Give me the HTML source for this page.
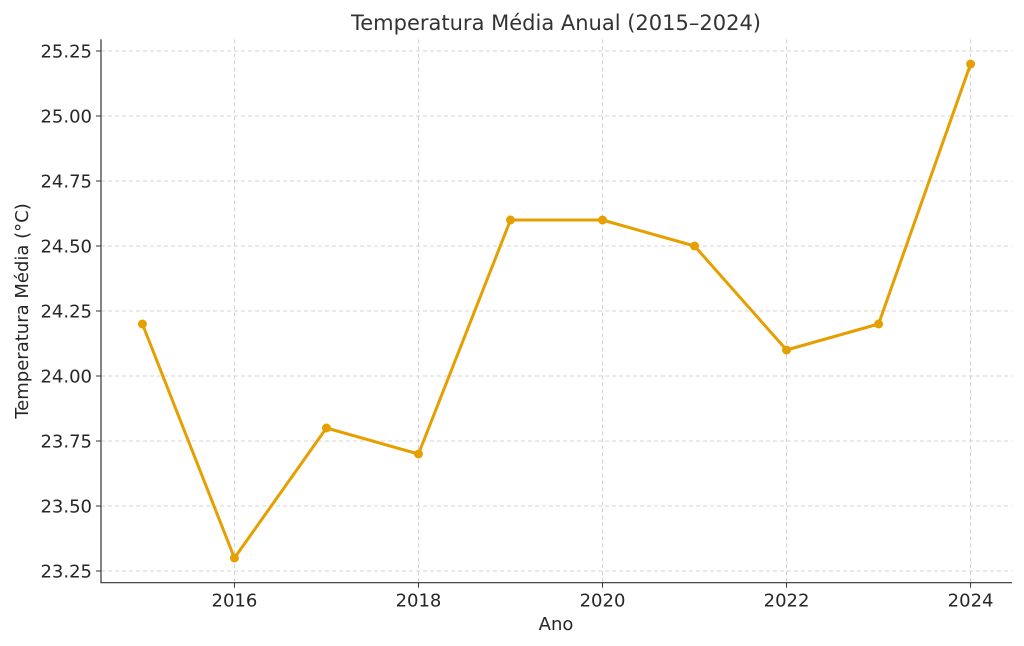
<!DOCTYPE html>
<html><head><meta charset="utf-8"><style>
body{margin:0;background:#fff;}
svg{display:block;font-family:"DejaVu Sans","Liberation Sans",sans-serif;}
</style></head><body>
<svg id="chart" width="1024" height="646"></svg>
<script>
const years=[2015,2016,2017,2018,2019,2020,2021,2022,2023,2024];
const temps=[24.2,23.3,23.8,23.7,24.6,24.6,24.5,24.1,24.2,25.2];
const xTicks=[2016,2018,2020,2022,2024];
const yTicks=[23.25,23.5,23.75,24.0,24.25,24.5,24.75,25.0,25.25];
const L=101,R=1012,T=39.3,B=582.7;
const xMin=2014.55,xMax=2024.45,yMin=23.205,yMax=25.295;
const X=v=>L+(v-xMin)/(xMax-xMin)*(R-L);
const Y=v=>B-(v-yMin)/(yMax-yMin)*(B-T);
const svg=document.getElementById('chart');
const NS='http://www.w3.org/2000/svg';
function mk(tag,attrs,parent){const e=document.createElementNS(NS,tag);for(const k in attrs)e.setAttribute(k,attrs[k]);(parent||svg).appendChild(e);return e;}
const grid=mk('g',{});


xTicks.forEach(t=>{
  const l=mk('line',{x1:X(t),x2:X(t),y1:T,y2:B,stroke:'#c8c8c8','stroke-dasharray':'4,3','stroke-width':0.8},grid);
  
  
  const k=mk('line',{x1:X(t),x2:X(t),y1:B,y2:B+5,stroke:'#333'});
  
  
  const tx=mk('text',{x:X(t),y:B+24,'text-anchor':'middle','font-size':18,fill:'#262626'});
  tx.textContent=t;
  
  
});
yTicks.forEach(t=>{
  const l=mk('line',{x1:L,x2:R,y1:Y(t),y2:Y(t),stroke:'#c8c8c8','stroke-dasharray':'4,3','stroke-width':0.8},grid);
  
  
  const k=mk('line',{x1:L-5,x2:L,y1:Y(t),y2:Y(t),stroke:'#333'});
  
  
  const tx=mk('text',{x:L-9,y:Y(t)+6.5,'text-anchor':'end','font-size':18,fill:'#262626'});
  tx.textContent=t.toFixed(2);
  
  
});
const ax=mk('path',{d:`M${L},${T}V${B}H${R}`,fill:'none',stroke:'#333','stroke-width':1.2});


const line=mk('polyline',{points:years.map((y,i)=>X(y)+','+Y(temps[i])).join(' '),fill:'none',stroke:'#E69F00','stroke-width':3,'stroke-linejoin':'round'});


years.forEach((y,i)=>{
  const c=mk('circle',{cx:X(y),cy:Y(temps[i]),r:4.5,fill:'#E69F00'});
  
  
});
const title=mk('text',{x:556,y:30,'text-anchor':'middle','font-size':21,fill:'#333'});
title.textContent='Temperatura Média Anual (2015–2024)';


const xt=mk('text',{x:556,y:630,'text-anchor':'middle','font-size':18,fill:'#262626'});
xt.textContent='Ano';


const yt=mk('text',{x:0,y:0,'text-anchor':'middle','font-size':18,fill:'#262626',transform:`translate(28,311) rotate(-90)`});
yt.textContent='Temperatura Média (°C)';


</script>
</body></html>
